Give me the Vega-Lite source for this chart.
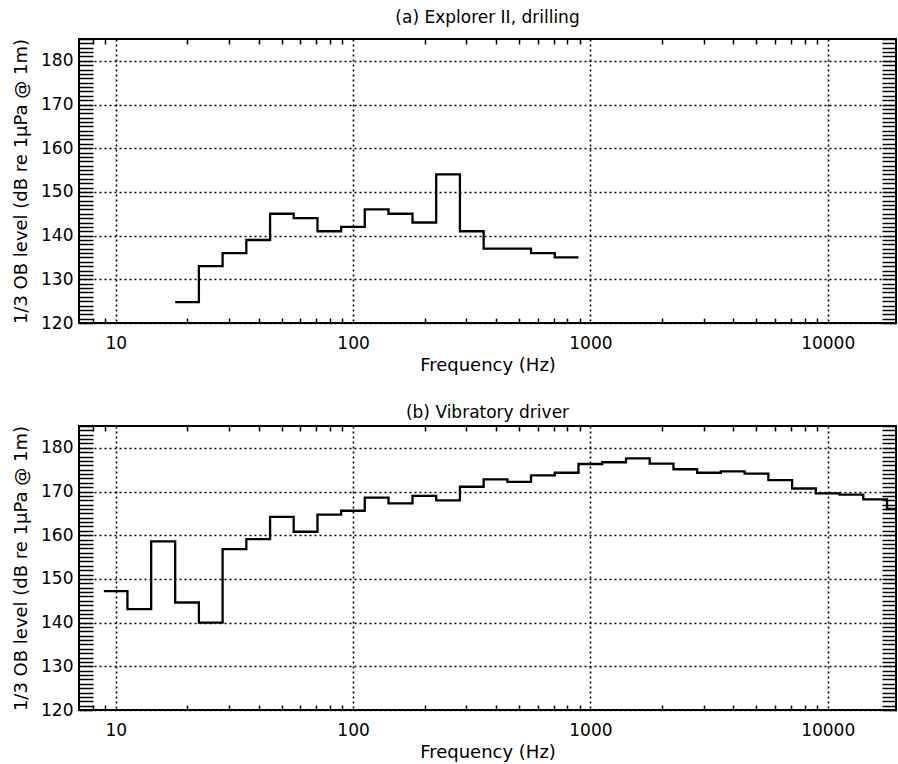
{
  "$schema": "https://vega.github.io/schema/vega-lite/v6.json",
  "padding": {"left": 11, "top": 8, "right": 0, "bottom": 0},
  "spacing": 28,
  "background": "white",
  "config": {
    "view": {"stroke": "black", "strokeWidth": 2},
    "font": "DejaVu Sans",
    "axis": {
      "labelColor": "black", "titleColor": "black",
      "labelFontSize": 17, "titleFontSize": 18, "titleFontWeight": "normal",
      "tickColor": "black", "gridColor": "black", "gridOpacity": 1,
      "gridDash": [2, 3], "gridWidth": 1.6, "domain": false
    },
    "title": {"fontSize": 17, "fontWeight": "normal", "color": "black", "offset": 11, "frame": "group", "anchor": "middle"}
  },
  "datasets": {
    "a": [
      {"f": 17.8, "level": 124.8}, {"f": 22.4, "level": 133}, {"f": 28.2, "level": 136},
      {"f": 35.5, "level": 139}, {"f": 44.7, "level": 145}, {"f": 56.2, "level": 144},
      {"f": 70.8, "level": 141}, {"f": 89.1, "level": 142}, {"f": 112, "level": 146},
      {"f": 141, "level": 145}, {"f": 178, "level": 143}, {"f": 224, "level": 154},
      {"f": 282, "level": 141}, {"f": 355, "level": 137}, {"f": 447, "level": 137},
      {"f": 562, "level": 136}, {"f": 708, "level": 135}, {"f": 891, "level": 135}
    ],
    "b": [
      {"f": 8.91, "level": 147.2}, {"f": 11.2, "level": 143.1}, {"f": 14.1, "level": 158.6},
      {"f": 17.8, "level": 144.6}, {"f": 22.4, "level": 140}, {"f": 28.2, "level": 156.8},
      {"f": 35.5, "level": 159.1}, {"f": 44.7, "level": 164.2}, {"f": 56.2, "level": 160.8},
      {"f": 70.8, "level": 164.7}, {"f": 89.1, "level": 165.6}, {"f": 112, "level": 168.6},
      {"f": 141, "level": 167.3}, {"f": 178, "level": 169}, {"f": 224, "level": 168},
      {"f": 282, "level": 171.1}, {"f": 355, "level": 172.8}, {"f": 447, "level": 172.2},
      {"f": 562, "level": 173.7}, {"f": 708, "level": 174.3}, {"f": 891, "level": 176.3},
      {"f": 1122, "level": 176.7}, {"f": 1413, "level": 177.6}, {"f": 1778, "level": 176.4},
      {"f": 2239, "level": 175.1}, {"f": 2818, "level": 174.3}, {"f": 3548, "level": 174.6},
      {"f": 4467, "level": 174.1}, {"f": 5623, "level": 172.6}, {"f": 7079, "level": 170.7},
      {"f": 8913, "level": 169.6}, {"f": 11220, "level": 169.3}, {"f": 14125, "level": 168.2},
      {"f": 17783, "level": 166}, {"f": 22387, "level": 166}
    ]
  },
  "vconcat": [
    {
      "title": "(a) Explorer II, drilling",
      "width": 817, "height": 284,
      "data": {"name": "a"},
      "layer": [
        {
          "mark": {"type": "line", "interpolate": "step-after", "color": "black", "strokeWidth": 2.3, "clip": true},
          "encoding": {
            "x": {"field": "f", "type": "quantitative", "scale": {"type": "log", "domain": [7, 19400], "nice": false},
                  "axis": {"orient": "bottom", "values": [10, 100, 1000, 10000], "format": "d", "grid": true, "ticks": false, "labelPadding": 12, "title": "Frequency (Hz)", "titlePadding": 5}},
            "y": {"field": "level", "type": "quantitative", "scale": {"domain": [120, 185], "nice": false, "zero": false},
                  "axis": {"orient": "left", "values": [120, 130, 140, 150, 160, 170, 180], "grid": true, "ticks": false, "labelPadding": 6, "title": "1/3 OB level (dB re 1μPa @ 1m)", "titleFontSize": 18, "titlePadding": 10}}
          }
        },
        {
          "mark": {"type": "line", "opacity": 0},
          "encoding": {
            "x": {"field": "f", "type": "quantitative", "scale": {"type": "log", "domain": [7, 19400], "nice": false},
                  "axis": {"orient": "top", "values": [8, 9, 20, 30, 40, 50, 60, 70, 80, 90, 200, 300, 400, 500, 600, 700, 800, 900, 2000, 3000, 4000, 5000, 6000, 7000, 8000, 9000], "labels": false, "grid": false, "ticks": true, "tickSize": -5, "tickWidth": 1.5, "title": null}},
            "y": {"field": "level", "type": "quantitative", "scale": {"domain": [120, 185], "nice": false, "zero": false},
                  "axis": {"orient": "right", "values": [120,121,122,123,124,125,126,127,128,129,130,131,132,133,134,135,136,137,138,139,140,141,142,143,144,145,146,147,148,149,150,151,152,153,154,155,156,157,158,159,160,161,162,163,164,165,166,167,168,169,170,171,172,173,174,175,176,177,178,179,180,181,182,183,184,185], "labels": false, "grid": false, "ticks": true, "tickSize": -14, "tickWidth": 1.5, "title": null}}
          }
        },
        {
          "mark": {"type": "line", "opacity": 0},
          "encoding": {
            "x": {"field": "f", "type": "quantitative", "scale": {"type": "log", "domain": [7, 19400], "nice": false},
                  "axis": {"orient": "bottom", "values": [8, 9, 20, 30, 40, 50, 60, 70, 80, 90, 200, 300, 400, 500, 600, 700, 800, 900, 2000, 3000, 4000, 5000, 6000, 7000, 8000, 9000], "labels": false, "grid": false, "ticks": true, "tickSize": -5, "tickWidth": 1.5, "title": null}},
            "y": {"field": "level", "type": "quantitative", "scale": {"domain": [120, 185], "nice": false, "zero": false},
                  "axis": {"orient": "left", "values": [120,121,122,123,124,125,126,127,128,129,130,131,132,133,134,135,136,137,138,139,140,141,142,143,144,145,146,147,148,149,150,151,152,153,154,155,156,157,158,159,160,161,162,163,164,165,166,167,168,169,170,171,172,173,174,175,176,177,178,179,180,181,182,183,184,185], "labels": false, "grid": false, "ticks": true, "tickSize": -14, "tickWidth": 1.5, "title": null}}
          }
        }
      ],
      "resolve": {"axis": {"x": "independent", "y": "independent"}}
    },
    {
      "title": {"text": "(b) Vibratory driver", "offset": 3},
      "width": 817, "height": 284,
      "data": {"name": "b"},
      "layer": [
        {
          "mark": {"type": "line", "interpolate": "step-after", "color": "black", "strokeWidth": 2.3, "clip": true},
          "encoding": {
            "x": {"field": "f", "type": "quantitative", "scale": {"type": "log", "domain": [7, 19400], "nice": false},
                  "axis": {"orient": "bottom", "values": [10, 100, 1000, 10000], "format": "d", "grid": true, "ticks": false, "labelPadding": 12, "title": "Frequency (Hz)", "titlePadding": 5}},
            "y": {"field": "level", "type": "quantitative", "scale": {"domain": [120, 185], "nice": false, "zero": false},
                  "axis": {"orient": "left", "values": [120, 130, 140, 150, 160, 170, 180], "grid": true, "ticks": false, "labelPadding": 6, "title": "1/3 OB level (dB re 1μPa @ 1m)", "titleFontSize": 18, "titlePadding": 10}}
          }
        },
        {
          "mark": {"type": "line", "opacity": 0},
          "encoding": {
            "x": {"field": "f", "type": "quantitative", "scale": {"type": "log", "domain": [7, 19400], "nice": false},
                  "axis": {"orient": "top", "values": [8, 9, 20, 30, 40, 50, 60, 70, 80, 90, 200, 300, 400, 500, 600, 700, 800, 900, 2000, 3000, 4000, 5000, 6000, 7000, 8000, 9000], "labels": false, "grid": false, "ticks": true, "tickSize": -5, "tickWidth": 1.5, "title": null}},
            "y": {"field": "level", "type": "quantitative", "scale": {"domain": [120, 185], "nice": false, "zero": false},
                  "axis": {"orient": "right", "values": [120,121,122,123,124,125,126,127,128,129,130,131,132,133,134,135,136,137,138,139,140,141,142,143,144,145,146,147,148,149,150,151,152,153,154,155,156,157,158,159,160,161,162,163,164,165,166,167,168,169,170,171,172,173,174,175,176,177,178,179,180,181,182,183,184,185], "labels": false, "grid": false, "ticks": true, "tickSize": -14, "tickWidth": 1.5, "title": null}}
          }
        },
        {
          "mark": {"type": "line", "opacity": 0},
          "encoding": {
            "x": {"field": "f", "type": "quantitative", "scale": {"type": "log", "domain": [7, 19400], "nice": false},
                  "axis": {"orient": "bottom", "values": [8, 9, 20, 30, 40, 50, 60, 70, 80, 90, 200, 300, 400, 500, 600, 700, 800, 900, 2000, 3000, 4000, 5000, 6000, 7000, 8000, 9000], "labels": false, "grid": false, "ticks": true, "tickSize": -5, "tickWidth": 1.5, "title": null}},
            "y": {"field": "level", "type": "quantitative", "scale": {"domain": [120, 185], "nice": false, "zero": false},
                  "axis": {"orient": "left", "values": [120,121,122,123,124,125,126,127,128,129,130,131,132,133,134,135,136,137,138,139,140,141,142,143,144,145,146,147,148,149,150,151,152,153,154,155,156,157,158,159,160,161,162,163,164,165,166,167,168,169,170,171,172,173,174,175,176,177,178,179,180,181,182,183,184,185], "labels": false, "grid": false, "ticks": true, "tickSize": -14, "tickWidth": 1.5, "title": null}}
          }
        }
      ],
      "resolve": {"axis": {"x": "independent", "y": "independent"}}
    }
  ]
}
